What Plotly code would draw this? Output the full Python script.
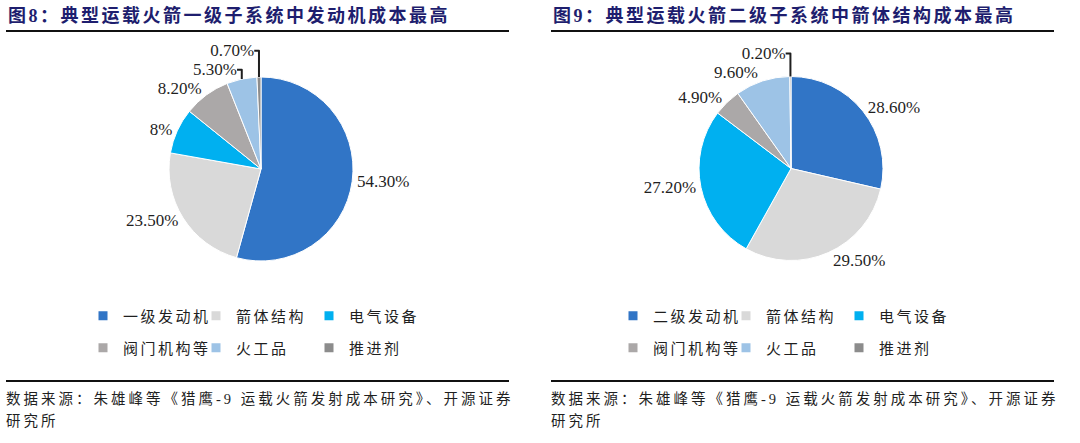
import plotly.graph_objects as go

# ---------------- data ----------------
left_labels = ["一级发动机", "箭体结构", "电气设备", "阀门机构等", "火工品", "推进剂"]
left_values = [54.3, 23.5, 8.0, 8.2, 5.3, 0.7]
left_text = ["54.30%", "23.50%", "8%", "8.20%", "5.30%", "0.70%"]

right_labels = ["二级发动机", "箭体结构", "电气设备", "阀门机构等", "火工品", "推进剂"]
right_values = [28.6, 29.5, 27.2, 4.9, 9.6, 0.2]
right_text = ["28.60%", "29.50%", "27.20%", "4.90%", "9.60%", "0.20%"]

slice_colors = ["#3175C6", "#D9D9D9", "#00B0F0", "#ABA8A8", "#9DC3E6", "#8C8C8C"]

left_title = "图8：典型运载火箭一级子系统中发动机成本最高"
right_title = "图9：典型运载火箭二级子系统中箭体结构成本最高"
source_line1 = "数据来源：朱雄峰等《猎鹰-9 运载火箭发射成本研究》、开源证券"
source_line2 = "研究所"

# ---------------- layout helpers ----------------
W, H = 1080, 443
FONT = "Liberation Serif, Noto Sans CJK SC, serif"
TEXT_COLOR = "#1f1f1f"
TITLE_COLOR = "#1E1E6E"


def px_x(v):
    return v / W


def px_y(v):
    return 1 - v / H


def spaced(s, sp):
    return f'<span style="letter-spacing:{sp}px">{s}</span>'


fig = go.Figure()

# pies
for labels, values, texts, (cx, cy) in [
    (left_labels, left_values, left_text, (261, 169)),
    (right_labels, right_values, right_text, (791, 168.5)),
]:
    r = 92
    fig.add_trace(go.Pie(
        labels=labels,
        values=values,
        text=texts,
        texttemplate="%{text}",
        textposition="outside",
        sort=False,
        direction="clockwise",
        rotation=0,
        marker=dict(colors=slice_colors, line=dict(color="white", width=1)),
        outsidetextfont=dict(family=FONT, size=17, color=TEXT_COLOR),
        domain=dict(x=[px_x(cx - r), px_x(cx + r)], y=[px_y(cy + r), px_y(cy - r)]),
        showlegend=False,
        hoverinfo="skip",
    ))

# legend entries (two rows of three per chart)
for side, labels in [("L", left_labels), ("R", right_labels)]:
    for row in range(2):
        lname = {("L", 0): "legend", ("L", 1): "legend2",
                 ("R", 0): "legend3", ("R", 1): "legend4"}[(side, row)]
        for k in range(3):
            idx = row * 3 + k
            fig.add_trace(go.Scatter(
                x=[None], y=[None], mode="markers",
                marker=dict(symbol="square", size=9, color=slice_colors[idx]),
                name=spaced(labels[idx], 2.5),
                legend=lname,
                hoverinfo="skip",
            ))

legend_common = dict(
    orientation="h",
    entrywidth=68,
    entrywidthmode="pixels",
    font=dict(family=FONT, size=15, color=TEXT_COLOR),
    bgcolor="rgba(0,0,0,0)",
    xanchor="left",
    yanchor="middle",
    itemclick=False,
    itemdoubleclick=False,
    tracegroupgap=0,
)

fig.update_layout(
    width=W, height=H,
    margin=dict(l=0, r=0, t=0, b=0),
    paper_bgcolor="white",
    plot_bgcolor="white",
    xaxis=dict(visible=False, range=[0, 1]),
    yaxis=dict(visible=False, range=[0, 1]),
    hovermode=False,
    legend=dict(**legend_common, x=px_x(83), y=px_y(316)),
    legend2=dict(**legend_common, x=px_x(83), y=px_y(348)),
    legend3=dict(**legend_common, x=px_x(613), y=px_y(316)),
    legend4=dict(**legend_common, x=px_x(613), y=px_y(348)),
)

# titles, rules, source notes
for x0, x1, title in [(6, 509, left_title), (551, 1054, right_title)]:
    fig.add_annotation(
        text=spaced(f"<b>{title}</b>", 2.5),
        x=px_x(x0), y=px_y(15), xref="paper", yref="paper",
        xanchor="left", yanchor="middle", showarrow=False,
        font=dict(family=FONT, size=18, color=TITLE_COLOR),
    )
    for yy in (31, 381):
        fig.add_shape(type="line", xref="paper", yref="paper",
                      x0=px_x(x0), x1=px_x(x1), y0=px_y(yy), y1=px_y(yy),
                      line=dict(color="#111111", width=2))
    fig.add_annotation(
        text=spaced(source_line1, 3),
        x=px_x(x0 - 2), y=px_y(398.5), xref="paper", yref="paper",
        xanchor="left", yanchor="middle", showarrow=False,
        font=dict(family=FONT, size=14.5, color=TEXT_COLOR),
    )
    fig.add_annotation(
        text=spaced(source_line2, 3),
        x=px_x(x0 - 2), y=px_y(421), xref="paper", yref="paper",
        xanchor="left", yanchor="middle", showarrow=False,
        font=dict(family=FONT, size=14.5, color=TEXT_COLOR),
    )

fig.write_html("out.html", config={"displayModeBar": False, "staticPlot": True},
               post_script="document.body.style.margin='0';")
